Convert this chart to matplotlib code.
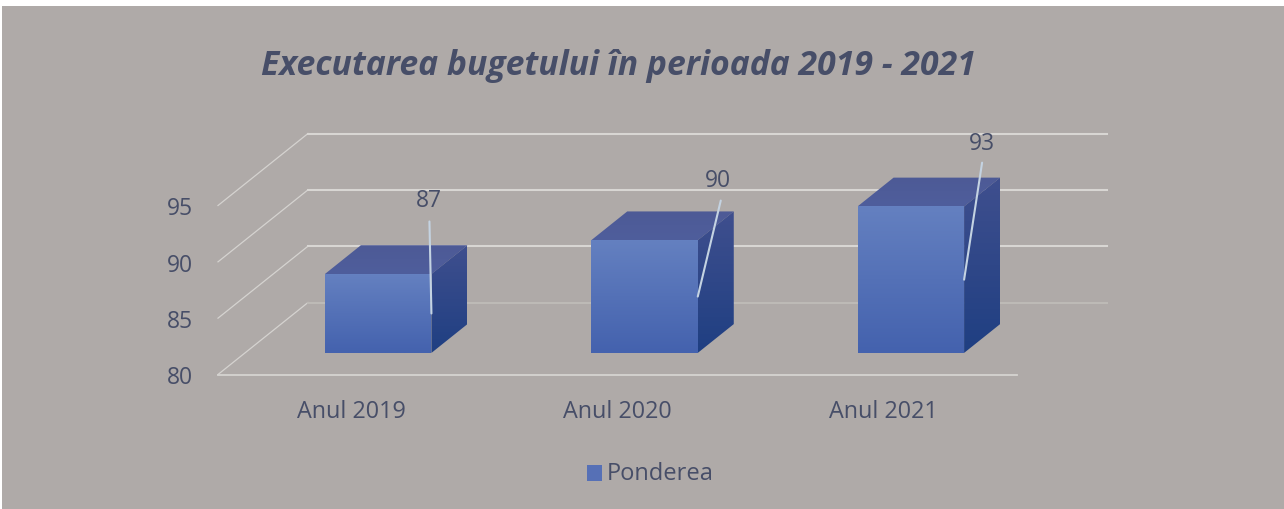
import numpy as np
import matplotlib
matplotlib.use('Agg')
import matplotlib.pyplot as plt
from matplotlib.patches import Polygon, Rectangle
from matplotlib.colors import LinearSegmentedColormap

annees = ['Anul 2019', 'Anul 2020', 'Anul 2021']
ponderea = [87, 90, 93]
graduations = [80, 85, 90, 95]

W, H = 1284, 510
fond = '#afaaa8'
texte = '#474e68'
police = ['Open Sans', 'DejaVu Sans']

# oblique 3D: depth 1 = 90 px right, 72 px up
largeur_cat = 799 / 3
px_par_unite = 169 / 15
dx = 90 / largeur_cat
dy = 72 / px_par_unite
base = graduations[0]


def proj(x, v, d):
    return x + d * dx, v + d * dy


fig = plt.figure(figsize=(W / 100, H / 100), dpi=100, facecolor='white')
fig.add_artist(Rectangle((2 / W, 0), 1, 1 - 7 / H, transform=fig.transFigure, fc=fond, ec='none', zorder=-1))

ax = fig.add_axes([218 / W, 1 - 375.5 / H, 799 / W, 169 / H])
ax.patch.set_visible(False)
for s in ax.spines.values():
    s.set_visible(False)

# walls grid
for i, g in enumerate(graduations):
    coul = '#d8d6d3' if i else '#bdbab6'
    x0, y0 = proj(-0.5, g, 0)
    x1, y1 = proj(-0.5, g, 1)
    x2, y2 = proj(2.5, g, 1)
    ax.plot([x0, x1], [y0, y1], color='#d5d3d0', lw=0.9, clip_on=False, zorder=1)
    ax.plot([x1, x2], [y1, y2], color=coul, lw=1.5, clip_on=False, zorder=1)
ax.plot([-0.5, 2.5], [base, base], color='#d5d3d0', lw=1.3, clip_on=False, zorder=1)


def face(pts, c_haut, c_bas, z):
    xs = [p[0] for p in pts]
    ys = [p[1] for p in pts]
    cmap = LinearSegmentedColormap.from_list('f', [c_bas, c_haut])
    im = ax.imshow(np.linspace(1, 0, 64).reshape(-1, 1), cmap=cmap, aspect='auto', zorder=z,
                   extent=(min(xs), max(xs), min(ys), max(ys)))
    im.set_clip_box(fig.bbox)
    im.set_clip_path(Polygon(pts, transform=ax.transData))


for i, v in enumerate(ponderea):
    g, d = i - 0.2, i + 0.2
    p0, p1 = 0.3, 0.7
    haut_av = [proj(g, v, p0), proj(d, v, p0), proj(d, v, p1), proj(g, v, p1)]
    cote = [proj(d, base, p0), proj(d, v, p0), proj(d, v, p1), proj(d, base, p1)]
    avant = [proj(g, base, p0), proj(d, base, p0), proj(d, v, p0), proj(g, v, p0)]
    face(haut_av, '#4d5a96', '#4f5e9c', 3)
    face(cote, '#3f4f8e', '#1f3f82', 3)
    face(avant, '#6480c0', '#4462ae', 4)

    # leader from mid height of the front right edge
    xa, ya = proj(d, (base + v) / 2, p0)
    ax.annotate('', xy=(xa, ya), xytext=((-2, 92), (23, 96), (18, 117))[i], textcoords='offset pixels',
                arrowprops=dict(arrowstyle='-', color='#c4d3e2', lw=1.5, shrinkA=0, shrinkB=0), zorder=6)
    ax.annotate(str(v), xy=(xa, ya), xytext=((-3, 113), (20, 117), (18, 137))[i], textcoords='offset pixels',
                ha='center', va='center', fontsize=16.5, color=texte, family=police, zorder=6)

ax.set_xlim(-0.5, 2.5)
ax.set_ylim(base, graduations[-1])
ax.set_xticks(range(3), annees)
ax.set_yticks(graduations)
ax.tick_params(length=0, labelsize=16.5, labelcolor=texte, pad=18)
ax.tick_params(axis='x', labelsize=16.8, pad=17.5)
for t in ax.get_xticklabels() + ax.get_yticklabels():
    t.set_family(police)
for t in ax.get_yticklabels():
    t.set_verticalalignment('center_baseline')

fig.text(618 / W, 1 - 66 / H, 'Executarea bugetului în perioada 2019 - 2021', ha='center', va='center',
         fontsize=24.3, fontweight='bold', style='italic', color=texte, family=police)

# legend
fig.add_artist(Rectangle((587 / W, 1 - 482 / H), 15 / W, 16 / H, transform=fig.transFigure, fc='#5670b6', ec='none'))
fig.text(607 / W, 1 - 474 / H, 'Ponderea', ha='left', va='center', fontsize=17, color=texte, family=police)

fig.savefig('out.png', dpi=100)
